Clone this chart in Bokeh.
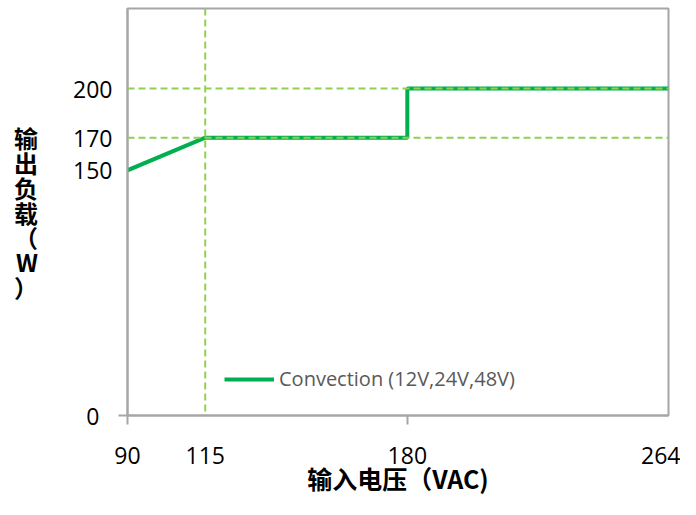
from bokeh.plotting import figure
from bokeh.models import Span, FixedTicker, Legend, LegendItem, Range1d
from bokeh.embed import file_html
from bokeh.resources import INLINE

# ---- data ----
voltage = [90, 115, 180, 180, 264]
load = [150, 170, 170, 200, 200]
x_ticks = [90, 115, 180, 264]
y_ticks = [0, 150, 170, 200]
x_tick_marks = [90, 180]
y_tick_marks = [0]
v_refs = [115]
h_refs = [170, 200]
series_name = "Convection (12V,24V,48V)"
x_title = "输入电压（VAC)"
y_title_chars = ["输", "出", "负", "载", "（", "W", "）"]

# ---- layout ----
X0, X1 = 90, 264
Y0, Y1 = 0, 249
W, H = 680, 499
BL, BR, BT, BB = 127, 12, 8, 84

GREEN = "#00b050"
LIGHT = "#92d050"
GRAY = "#a6a6a6"
FONT = "Open Sans"
CJK = "Noto Sans CJK SC"

p = figure(width=W, height=H, output_backend="svg", toolbar_location=None,
           x_range=Range1d(X0, X1), y_range=Range1d(Y0, Y1), title=None,
           min_border_left=BL, min_border_right=BR, min_border_top=BT,
           min_border_bottom=BB)
p.grid.visible = False
p.outline_line_color = GRAY
p.outline_line_width = 2
p.background_fill_color = "white"
p.border_fill_color = "white"

for ax, ticks, marks, standoff in ((p.xaxis[0], x_ticks, x_tick_marks, 22),
                                   (p.yaxis[0], y_ticks, y_tick_marks, 6)):
    ax.ticker = FixedTicker(ticks=ticks, minor_ticks=marks)
    ax.axis_line_color = GRAY
    ax.axis_line_width = 2
    ax.major_tick_out = 0
    ax.major_tick_in = 0
    ax.minor_tick_in = 0
    ax.minor_tick_out = 9
    ax.minor_tick_line_color = GRAY
    ax.minor_tick_line_width = 2
    ax.major_label_text_font = FONT
    ax.major_label_text_font_size = "23px"
    ax.major_label_text_color = "#000000"
    ax.major_label_standoff = standoff
    ax.axis_label_text_font = CJK
    ax.axis_label_text_font_style = "bold"
    ax.axis_label_text_color = "#000000"

xa = p.xaxis[0]
xa.axis_label = x_title
xa.axis_label_text_font_size = "25px"
xa.axis_label_standoff = -7

ya = p.yaxis[0]
ya.major_label_overrides = {0: "0\u2007"}
ya.axis_label = "\n".join(y_title_chars)
ya.axis_label_orientation = "horizontal"
ya.axis_label_text_font_size = "24px"
ya.axis_label_text_line_height = 0.705
ya.axis_label_standoff = 32

r = p.line(voltage, load, line_color=GREEN, line_width=4)

for v in v_refs:
    p.add_layout(Span(location=v, dimension="height", line_color=LIGHT,
                      line_width=2, line_dash="7 4"))
for h in h_refs:
    p.add_layout(Span(location=h, dimension="width", line_color=LIGHT,
                      line_width=2, line_dash="7 4"))

legend = Legend(items=[LegendItem(label=series_name, renderers=[r])],
                location=(97, 23), border_line_color=None,
                background_fill_alpha=0, glyph_width=50, glyph_height=20,
                label_text_font=FONT, label_text_font_size="20px",
                label_text_color="#595959", padding=0, margin=0, spacing=0,
                label_standoff=5)
p.add_layout(legend)

open("out.html", "w").write(file_html(p, INLINE))
